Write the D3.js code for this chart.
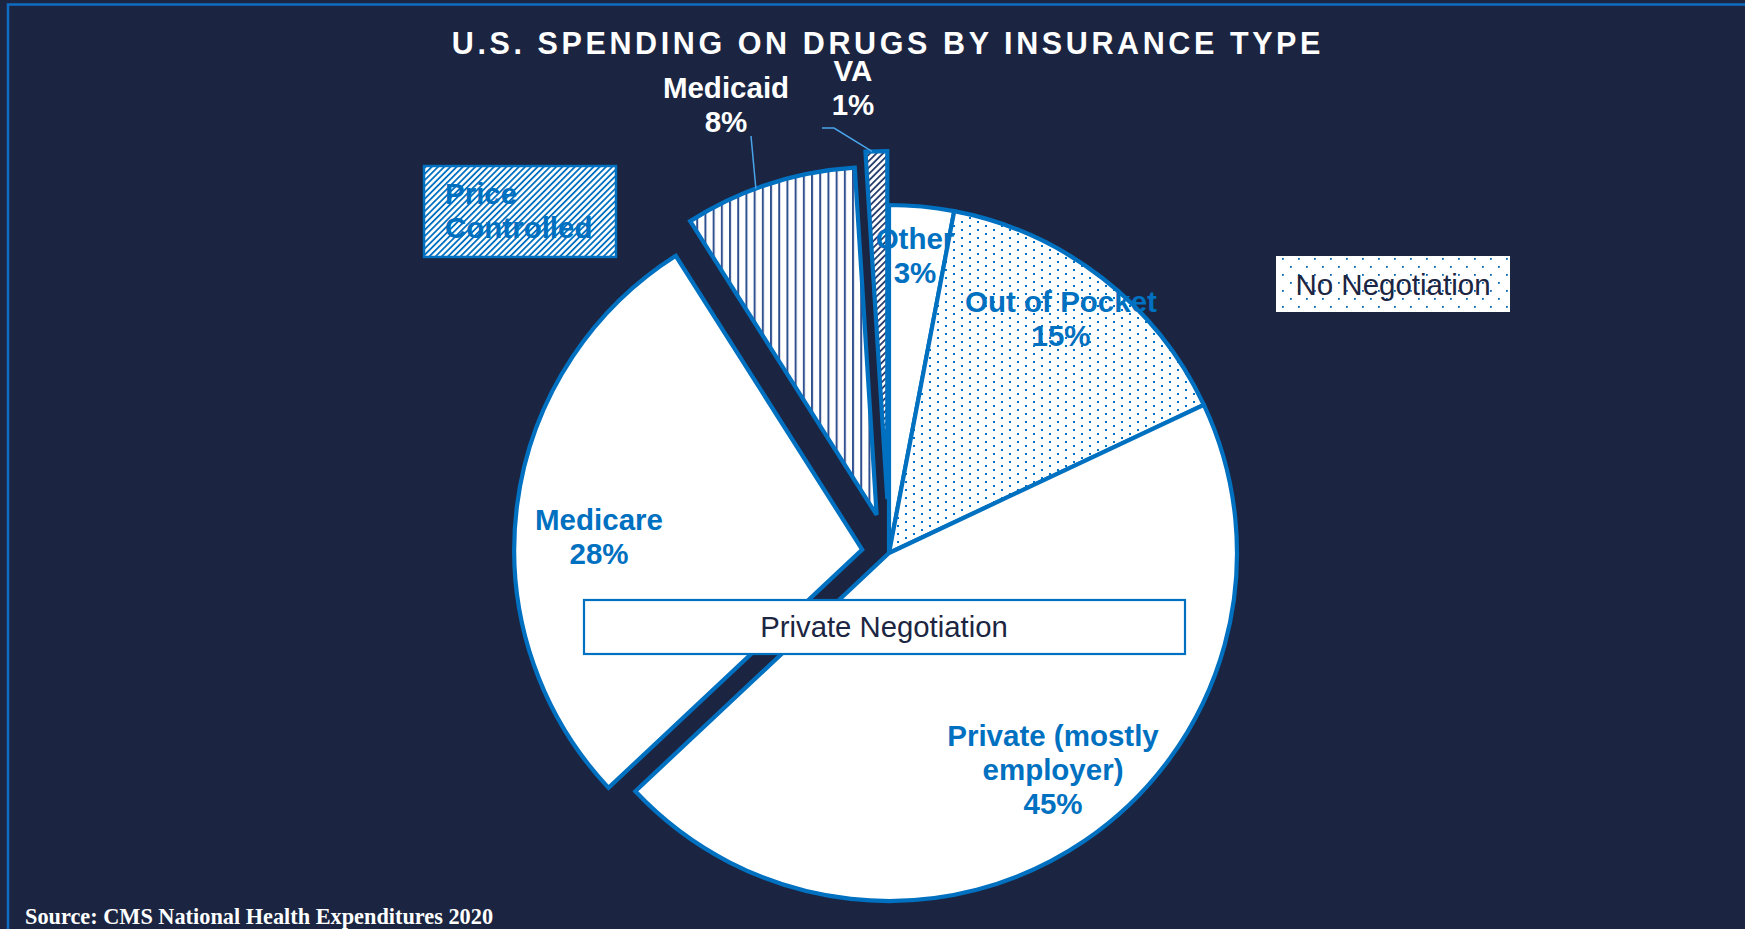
<!DOCTYPE html>
<html>
<head>
<meta charset="utf-8">
<script src="https://cdn.jsdelivr.net/npm/d3@7"></script>
<style>
  html, body { margin: 0; padding: 0; background: #1b2541; overflow: hidden; }
  svg { display: block; }
</style>
</head>
<body>
<svg id="chart" width="1745" height="929"></svg>
<script>
// ---- Data: share of U.S. drug spending by payer (percent) ----
const categories = ["Other", "Out of Pocket", "Private", "Medicare", "Medicaid", "VA"];
const shares = [3, 15, 45, 28, 8, 1];
// Label name lines shown above each percentage
const labelNames = [["Other"], ["Out of Pocket"], ["Private (mostly", "employer)"], ["Medicare"], ["Medicaid"], ["VA"]];
// Negotiation-regime call-outs
const groupLabels = ["Price Controlled", "No Negotiation", "Private Negotiation"];
const titleText = "U.S. SPENDING ON DRUGS BY INSURANCE TYPE";
const sourceText = "Source: CMS National Health Expenditures 2020";

// ---- Layout & styling ----
const W = 1745, H = 929;
const cx = 889, cy = 553, R = 348;
const BLUE = "#0070c0", NAVY = "#1c2541", STRIPE = "#30508f", HATCH = "#263c6c";
const explodeBy = { "Medicare": 27, "Medicaid": 40, "VA": 54 };
const fillBy = {
  "Other": "#ffffff",
  "Out of Pocket": "url(#dotsDense)",
  "Private": "#ffffff",
  "Medicare": "#ffffff",
  "Medicaid": "url(#vStripes)",
  "VA": "url(#hatchNavy)"
};
const labelStyle = {
  "Other":         { x: 915,  y: 249, color: BLUE },
  "Out of Pocket": { x: 1061, y: 312, color: BLUE },
  "Private":       { x: 1053, y: 746, color: BLUE },
  "Medicare":      { x: 599,  y: 530, color: BLUE },
  "Medicaid":      { x: 726,  y: 98,  color: "#ffffff" },
  "VA":            { x: 853,  y: 81,  color: "#ffffff" }
};
const LINE_H = 34;
const LABEL_SIZE = "29.5px";
const FONT = "'Liberation Sans', Arial, sans-serif";

const svg = d3.select("#chart");

// ---- Fill patterns ----
const defs = svg.append("defs");

// Out-of-pocket: staggered small dots
const pDots = defs.append("pattern").attr("id", "dotsDense")
  .attr("patternUnits", "userSpaceOnUse").attr("width", 16).attr("height", 8);
pDots.append("rect").attr("width", 16).attr("height", 8).attr("fill", "#fff");
pDots.append("rect").attr("x", 0).attr("y", 0).attr("width", 2).attr("height", 2).attr("fill", BLUE);
pDots.append("rect").attr("x", 8).attr("y", 4).attr("width", 2).attr("height", 2).attr("fill", BLUE);

// No-negotiation call-out: sparser staggered dots
const pDots2 = defs.append("pattern").attr("id", "dotsSparse")
  .attr("patternUnits", "userSpaceOnUse").attr("width", 16).attr("height", 16);
pDots2.append("rect").attr("width", 16).attr("height", 16).attr("fill", "#fff");
pDots2.append("rect").attr("x", 2).attr("y", 2).attr("width", 1.8).attr("height", 1.8).attr("fill", "#0a62aa");
pDots2.append("rect").attr("x", 10).attr("y", 10).attr("width", 1.8).attr("height", 1.8).attr("fill", "#0a62aa");

// Medicaid: vertical stripes
const pV = defs.append("pattern").attr("id", "vStripes")
  .attr("patternUnits", "userSpaceOnUse").attr("width", 8.2).attr("height", 10);
pV.append("rect").attr("width", 8.2).attr("height", 10).attr("fill", "#fff");
pV.append("rect").attr("x", 0).attr("width", 2).attr("height", 10).attr("fill", STRIPE);

// VA: navy upward diagonal hatch
const pH = defs.append("pattern").attr("id", "hatchNavy")
  .attr("patternUnits", "userSpaceOnUse").attr("width", 4.6).attr("height", 10)
  .attr("patternTransform", "rotate(45)");
pH.append("rect").attr("width", 4.6).attr("height", 10).attr("fill", "#fff");
pH.append("rect").attr("width", 1.8).attr("height", 10).attr("fill", HATCH);

// Price-controlled call-out: blue upward diagonal hatch
const pB = defs.append("pattern").attr("id", "hatchBlue")
  .attr("patternUnits", "userSpaceOnUse").attr("width", 4.4).attr("height", 10)
  .attr("patternTransform", "rotate(45)");
pB.append("rect").attr("width", 4.4).attr("height", 10).attr("fill", "#fff");
pB.append("rect").attr("width", 1.8).attr("height", 10).attr("fill", BLUE);

// ---- Frame ----
svg.append("rect").attr("x", 8).attr("y", 4.5).attr("width", W + 20).attr("height", H + 20)
  .attr("fill", "none").attr("stroke", "#0e6dc2").attr("stroke-width", 2.5);

// ---- Title ----
svg.append("text")
  .attr("x", 886 + 1.9).attr("y", 54)
  .attr("text-anchor", "middle")
  .style("font-family", FONT).style("font-weight", "bold").style("font-size", "30.5px")
  .style("letter-spacing", "3.6px")
  .attr("fill", "#ffffff")
  .text(titleText);

// ---- Pie ----
const data = categories.map((c, i) => ({ name: c, value: shares[i], lines: labelNames[i] }));
const pie = d3.pie().sort(null).value(d => d.value).startAngle(0).endAngle(2 * Math.PI);
const arc = d3.arc().innerRadius(0).outerRadius(R);
const arcs = pie(data);

function offsetOf(d) {
  const e = explodeBy[d.data.name] || 0;
  const mid = (d.startAngle + d.endAngle) / 2;
  return [e * Math.sin(mid), -e * Math.cos(mid)];
}
function pointOnRim(d, frac) {
  const [ox, oy] = offsetOf(d);
  const a = d.startAngle + (d.endAngle - d.startAngle) * frac;
  return [cx + ox + R * Math.sin(a), cy + oy - R * Math.cos(a)];
}

svg.append("g").selectAll("path")
  .data(arcs)
  .join("path")
  .attr("transform", d => { const [ox, oy] = offsetOf(d); return `translate(${cx + ox},${cy + oy})`; })
  .attr("d", arc)
  .attr("fill", d => fillBy[d.data.name])
  .attr("stroke", BLUE)
  .attr("stroke-width", 4.2)
  .attr("stroke-linejoin", "miter");

// ---- Leader lines for the small exploded slices ----
const byName = Object.fromEntries(arcs.map(d => [d.data.name, d]));
const leader = svg.append("g").attr("fill", "none").attr("stroke", "#4aa3ea").attr("stroke-width", 1.5);
{
  const end = pointOnRim(byName["Medicaid"], 0.42);
  leader.append("polyline").attr("points", [[751, 136], end].map(p => p.join(",")).join(" "));
}
{
  const end = pointOnRim(byName["VA"], 0.3);
  leader.append("polyline").attr("points", [[822, 128], [834, 128], end].map(p => p.join(",")).join(" "));
}

// ---- Slice labels ----
const labels = svg.append("g")
  .style("font-family", FONT).style("font-weight", "bold").style("font-size", LABEL_SIZE)
  .attr("text-anchor", "middle");
arcs.forEach(d => {
  const s = labelStyle[d.data.name];
  const lines = d.data.lines.concat([`${d.data.value}%`]);
  const t = labels.append("text").attr("fill", s.color);
  lines.forEach((ln, i) => {
    t.append("tspan").attr("x", s.x).attr("y", s.y + i * LINE_H).text(ln);
  });
});

// ---- Negotiation-regime call-outs ----
// Price Controlled
svg.append("rect").attr("x", 424).attr("y", 166).attr("width", 192).attr("height", 91)
  .attr("fill", "url(#hatchBlue)").attr("stroke", BLUE).attr("stroke-width", 2.5);
const pc = svg.append("text").attr("fill", BLUE)
  .style("font-family", FONT).style("font-weight", "bold").style("font-size", LABEL_SIZE);
groupLabels[0].split(" ").forEach((w, i) => {
  pc.append("tspan").attr("x", 445).attr("y", 204 + i * 34).text(w);
});

// No Negotiation
svg.append("rect").attr("x", 1276).attr("y", 256).attr("width", 234).attr("height", 56)
  .attr("fill", "url(#dotsSparse)");
svg.append("text").attr("x", 1393).attr("y", 295).attr("text-anchor", "middle")
  .attr("fill", NAVY)
  .style("font-family", FONT).style("font-size", "29.5px")
  .text(groupLabels[1]);

// Private Negotiation
svg.append("rect").attr("x", 584).attr("y", 600).attr("width", 601).attr("height", 54)
  .attr("fill", "#ffffff").attr("stroke", BLUE).attr("stroke-width", 2.2);
svg.append("text").attr("x", 884).attr("y", 637).attr("text-anchor", "middle")
  .attr("fill", NAVY)
  .style("font-family", FONT).style("font-size", "29.3px")
  .text(groupLabels[2]);

// ---- Source note ----
svg.append("text").attr("x", 25).attr("y", 924)
  .attr("fill", "#ffffff")
  .style("font-family", "'Liberation Serif', 'Times New Roman', serif")
  .style("font-weight", "bold").style("font-size", "22.3px")
  .text(sourceText);
</script>
</body>
</html>
